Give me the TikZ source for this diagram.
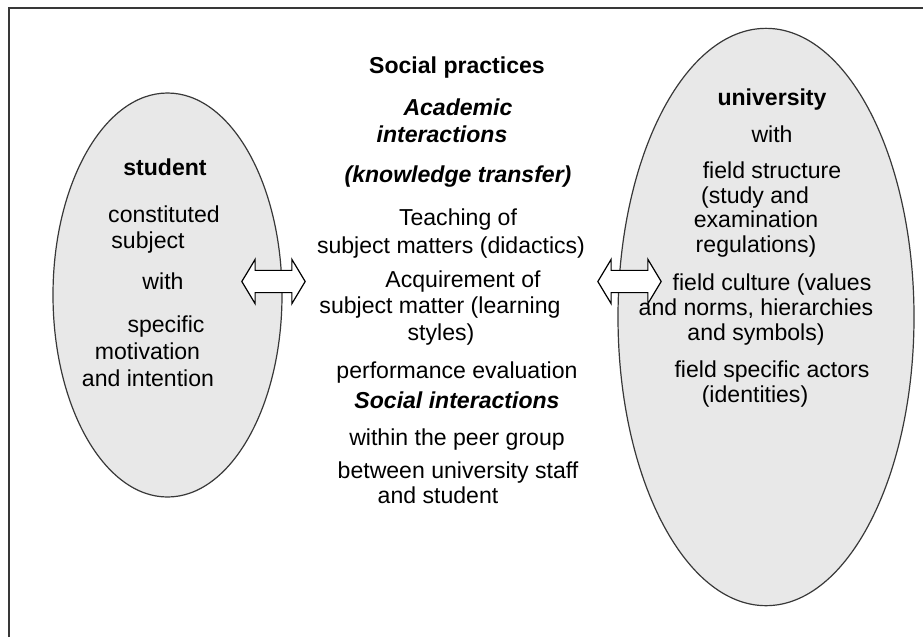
\documentclass[tikz,border=0pt]{standalone}
\usepackage{fontspec}
\setmainfont{Liberation Sans}
\usetikzlibrary{shapes.geometric,shapes.arrows}
\definecolor{ovalgray}{gray}{0.91}
\definecolor{inkgray}{gray}{0.22}

\begin{document}
\begin{tikzpicture}
                        [x=0.75pt,y=-0.75pt,
                        oval/.style = {ellipse,
                                    draw=inkgray, fill=ovalgray,
                                    line width=0.9pt, inner sep=0pt},
                        link/.style = {double arrow,
                                    draw=black, fill=white, line width=0.9pt,
                                    inner sep=0pt, inner ysep=7.9pt,
                                    double arrow head extend=8.25pt,
                                    double arrow tip angle=118,
                                    minimum height=47.5pt},
                        lbl/.style = {inner sep=0pt, text height=12.4pt, text depth=3.5pt,
                                    font=\fontsize{17.3pt}{20pt}\selectfont},
                        hd/.style = {lbl, font=\fontsize{17.3pt}{20pt}\selectfont\bfseries},
                        hdi/.style = {lbl, font=\fontsize{17.3pt}{20pt}\selectfont\bfseries\itshape}]
                        \useasboundingbox (0,0) rectangle (923,637);
                        \draw [draw=inkgray, line width=1.4pt] (9,637) -- (9,8) -- (923,8);
                        \node[oval, minimum width=171.75pt, minimum height=303pt] (student) at (167.5,295) {};
                        \node[oval, minimum width=222pt, minimum height=433pt] (univ) at (766,317) {};
                        \node[link] (linkL) at (273.5,281.5) {};
                        \node[link] (linkR) at (629.5,281.5) {};
                        % student
                        \node[hd] (st0) at (165,170) {student};
                        \node[lbl] (st1) at (164,217) {constituted};
                        \node[lbl] (st2) at (148,243) {subject};
                        \node[lbl] (st3) at (163,284) {with};
                        \node[lbl] (st4) at (166,327) {specific};
                        \node[lbl] (st5) at (147.5,354) {motivation};
                        \node[lbl] (st6) at (148,381) {and intention};
                        % social practices
                        \node[hd] (sp0) at (457,68) {Social practices};
                        \node[hdi] (sp1) at (458,110) {Academic};
                        \node[hdi] (sp2) at (442,137) {interactions};
                        \node[hdi] (sp3) at (458,177) {(knowledge transfer)};
                        \node[lbl] (sp4) at (458,220) {Teaching of};
                        \node[lbl] (sp5) at (451,248) {subject matters (didactics)};
                        \node[lbl] (sp6) at (463,282) {Acquirement of};
                        \node[lbl] (sp7) at (440,308) {subject matter (learning};
                        \node[lbl] (sp8) at (441,335) {styles)};
                        \node[lbl] (sp9) at (457,373) {performance evaluation};
                        \node[hdi] (sp10) at (457,403) {Social interactions};
                        \node[lbl] (sp11) at (457,440) {within the peer group};
                        \node[lbl] (sp12) at (458,473) {between university staff};
                        \node[lbl] (sp13) at (438,498) {and student};
                        % university
                        \node[hd] (un0) at (772,100) {university};
                        \node[lbl] (un1) at (772,137) {with};
                        \node[lbl] (un2) at (772,173) {field structure};
                        \node[lbl] (un3) at (755,198) {(study and};
                        \node[lbl] (un4) at (756,222) {examination};
                        \node[lbl] (un5) at (756,247) {regulations)};
                        \node[lbl] (un6) at (772,285) {field culture (values};
                        \node[lbl] (un7) at (756,310) {and norms, hierarchies};
                        \node[lbl] (un8) at (756,335) {and symbols)};
                        \node[lbl] (un9) at (772,372) {field specific actors};
                        \node[lbl] (un10) at (755,397) {(identities)};
                    \end{tikzpicture}
\end{document}
